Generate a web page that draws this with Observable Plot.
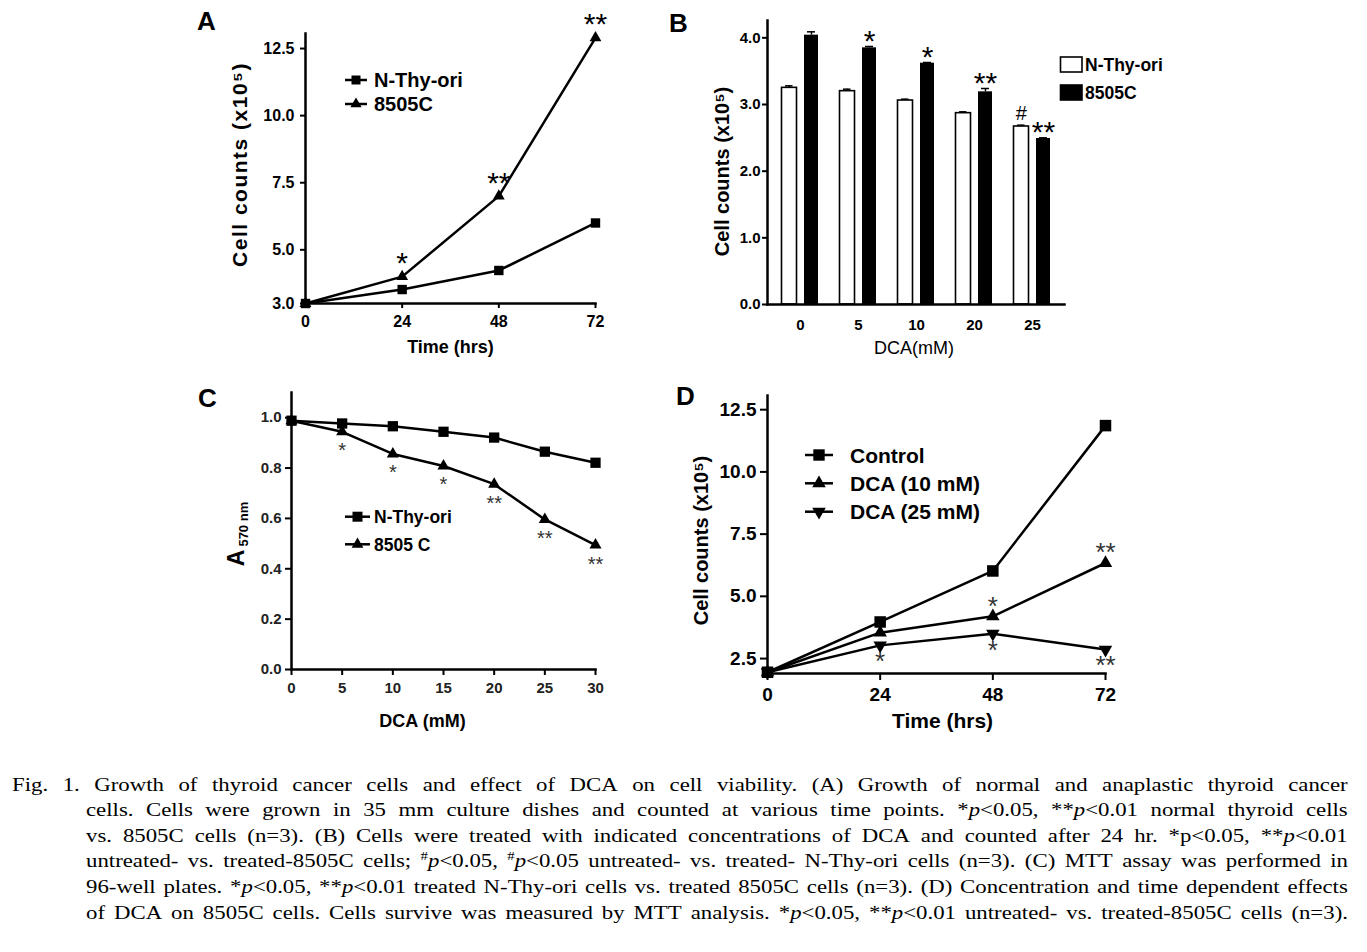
<!DOCTYPE html>
<html><head><meta charset="utf-8">
<script src="https://cdn.jsdelivr.net/npm/d3@7"></script>
<script src="https://cdn.jsdelivr.net/npm/@observablehq/plot@0.6"></script>
<style>
body{margin:0;background:#fff}
#page{position:relative;width:1367px;height:952px;overflow:hidden;background:#fff;font-family:"Liberation Sans",Arial,sans-serif}
.panel{position:absolute}
.panel svg{overflow:visible}
#overlay{position:absolute;left:0;top:0;pointer-events:none}
.capline{position:absolute;display:flex;justify-content:space-between;white-space:nowrap;font-family:"Liberation Serif","Times New Roman",serif;font-size:19px;color:#000;height:25.6px;line-height:25.6px;transform-origin:0 0}
.capline sup{font-size:0.65em;line-height:0;vertical-align:0.55em}
</style></head>
<body><div id="page"></div>
<script>
const FONT = '"Liberation Sans", Arial, Helvetica, sans-serif';

// ---------- Panel A: growth ----------
const timeA = [0, 24, 48, 72];
const nthyA = [3.0, 3.52, 4.23, 6.0];
const c8505A = [3.0, 4.0, 7.0, 12.9];
const sigA = ["", "*", "**", "**"];
const yTicksA = [3, 5, 7.5, 10, 12.5];
const legendA = ["N-Thy-ori", "8505C"];

// ---------- Panel B: DCA 24 h counts ----------
const doseB = ["0", "5", "10", "20", "25"];
const nthyB = [3.25, 3.20, 3.06, 2.87, 2.67];
const nthyErrB = [0.03, 0.03, 0.02, 0.02, 0.02];
const c8505B = [4.04, 3.85, 3.62, 3.19, 2.49];
const c8505ErrB = [0.05, 0.02, 0.01, 0.05, 0.01];
const nthySigB = ["", "", "", "", "#"];
const c8505SigB = ["", "*", "*", "**", "**"];
const yTicksB = [0, 1, 2, 3, 4];
const legendB = ["N-Thy-ori", "8505C"];

// ---------- Panel C: MTT ----------
const doseC = [0, 5, 10, 15, 20, 25, 30];
const nthyC = [0.988, 0.977, 0.966, 0.944, 0.921, 0.865, 0.821];
const c8505C = [0.988, 0.944, 0.856, 0.808, 0.736, 0.596, 0.494];
const sigC = ["", "*", "*", "*", "**", "**", "**"];
const yTicksC = [0, 0.2, 0.4, 0.6, 0.8, 1.0];
const legendC = ["N-Thy-ori", "8505 C"];

// ---------- Panel D: time / concentration ----------
const timeD = [0, 24, 48, 72];
const controlD = [1.95, 3.97, 6.02, 11.86];
const dca10D = [1.95, 3.54, 4.2, 6.34];
const dca25D = [1.95, 3.03, 3.5, 2.86];
const sig10D = ["", "", "*", "**"];
const sig25D = ["", "*", "*", "**"];
const yTicksD = [2.5, 5, 7.5, 10, 12.5];
const legendD = ["Control", "DCA (10 mM)", "DCA (25 mM)"];

// ---------- Caption ----------
const captionLines = [
  "Fig. 1. Growth of thyroid cancer cells and effect of DCA on cell viability. (A) Growth of normal and anaplastic thyroid cancer",
  "cells. Cells were grown in 35 mm culture dishes and counted at various time points. *<i>p</i>&lt;0.05, **<i>p</i>&lt;0.01 normal thyroid cells",
  "vs. 8505C cells (n=3). (B) Cells were treated with indicated concentrations of DCA and counted after 24 hr. *p&lt;0.05, **<i>p</i>&lt;0.01",
  "untreated- vs. treated-8505C cells; <sup>#</sup><i>p</i>&lt;0.05, <sup>#</sup><i>p</i>&lt;0.05 untreated- vs. treated- N-Thy-ori cells (n=3). (C) MTT assay was performed in",
  "96-well plates. *<i>p</i>&lt;0.05, **<i>p</i>&lt;0.01 treated N-Thy-ori cells vs. treated 8505C cells (n=3). (D) Concentration and time dependent effects",
  "of DCA on 8505C cells. Cells survive was measured by MTT analysis. *<i>p</i>&lt;0.05, **<i>p</i>&lt;0.01 untreated- vs. treated-8505C cells (n=3)."
];

const triangleDown = {
  draw(context, size) {
    const s = Math.sqrt(3);
    const y = -Math.sqrt(size / (s * 3));
    context.moveTo(0, -y * 2);
    context.lineTo(-s * y, y);
    context.lineTo(s * y, y);
    context.closePath();
  }
};

function baseStyle(fs) {
  return {fontFamily: FONT, fontSize: fs + "px", fontWeight: "bold", color: "#000", background: "transparent", overflow: "visible"};
}
const fmt1 = d3.format(".1f");
const page = document.getElementById("page");
function place(el, left, top) {
  const d = document.createElement("div");
  d.className = "panel";
  d.style.left = left + "px";
  d.style.top = top + "px";
  d.appendChild(el);
  page.appendChild(d);
  return el;
}
const xLabel = (t, o) => Plot.text([t], {frameAnchor: "bottom", textAnchor: "middle", lineAnchor: "middle", ...o});
const yLabel = (t, o) => Plot.text([t], {frameAnchor: "left", textAnchor: "middle", lineAnchor: "middle", rotate: -90, ...o});

// Panel A
const rowsA = timeA.map((t, i) => ({t, n: nthyA[i], c: c8505A[i], sig: sigA[i]}));
const svgA = place(Plot.plot({
  width: 440, height: 370, marginLeft: 115, marginRight: 35, marginTop: 33, marginBottom: 67,
  style: baseStyle(16),
  x: {domain: [0, 72]},
  y: {domain: [3, 13.06]},
  marks: [
    Plot.axisX({ticks: timeA, tickSize: 5, tickPadding: 7, strokeWidth: 2, fontSize: 16, fontWeight: "bold", label: null}),
    Plot.axisY({ticks: yTicksA, tickFormat: fmt1, tickSize: 5, tickPadding: 6, strokeWidth: 2, fontSize: 16, fontWeight: "bold", label: null}),
    Plot.frame({anchor: "left", strokeWidth: 2.5}),
    Plot.frame({anchor: "bottom", strokeWidth: 2.5}),
    Plot.line(rowsA, {x: "t", y: "n", strokeWidth: 2.5}),
    Plot.line(rowsA, {x: "t", y: "c", strokeWidth: 2.5}),
    Plot.dot(rowsA, {x: "t", y: "n", symbol: "square", r: 5.3, fill: "#000"}),
    Plot.dot(rowsA, {x: "t", y: "c", symbol: "triangle", r: 4.4, fill: "#000"}),
    Plot.text(rowsA.filter(d => d.sig), {x: "t", y: "c", text: "sig", dy: -13, fontSize: 30, fontWeight: "normal"}),
    xLabel("Time (hrs)", {dy: 44, fontSize: 18}),
    yLabel("Cell counts (x10⁵)", {dx: -65, dy: -4, fontSize: 21})
  ]
}), 190, 0);
d3.select(svgA).selectAll("text").filter(function() { return this.textContent.startsWith("Cell"); })
  .attr("letter-spacing", "1.5px");

// Panel B
const rowsB = doseB.map((d, i) => ({dose: d, n: nthyB[i], ne: nthyErrB[i], c: c8505B[i], ce: c8505ErrB[i], ns: nthySigB[i], cs: c8505SigB[i]}));
place(Plot.plot({
  width: 520, height: 370, marginLeft: 107, marginRight: 116, marginTop: 20, marginBottom: 66,
  style: baseStyle(15),
  x: {domain: doseB, paddingInner: 0, paddingOuter: 0.05},
  y: {domain: [0, 4.26]},
  marks: [
    Plot.barY(rowsB, {x: "dose", y: "n", fill: "#fff", stroke: "#000", strokeWidth: 1.6, insetLeft: 10.5, insetRight: 32.5}),
    Plot.barY(rowsB, {x: "dose", y: "c", fill: "#000", insetLeft: 33, insetRight: 11}),
    Plot.ruleX(rowsB, {x: "dose", y1: "n", y2: d => d.n + d.ne, dx: -11.3, strokeWidth: 1.5}),
    Plot.tickY(rowsB, {x: "dose", y: d => d.n + d.ne, insetLeft: 14, insetRight: 36.5, strokeWidth: 1.5}),
    Plot.ruleX(rowsB, {x: "dose", y1: "c", y2: d => d.c + d.ce, dx: 11, strokeWidth: 1.5}),
    Plot.tickY(rowsB, {x: "dose", y: d => d.c + d.ce, insetLeft: 36, insetRight: 14, strokeWidth: 1.5}),
    Plot.text(rowsB.filter(d => d.cs), {x: "dose", y: d => d.c + d.ce, text: "cs", dx: 11, dy: -5.5, fontSize: 30, fontWeight: "normal"}),
    Plot.text(rowsB.filter(d => d.ns), {x: "dose", y: d => d.n + d.ne, text: "ns", dx: -11.3, dy: -12, fontSize: 20, fontWeight: "normal"}),
    Plot.axisX({tickSize: 0, tickPadding: 15, fontSize: 15, fontWeight: "bold", label: null}),
    Plot.axisY({ticks: yTicksB, tickFormat: fmt1, tickSize: 5, tickPadding: 2, strokeWidth: 2, fontSize: 15, fontWeight: "bold", label: null}),
    Plot.frame({anchor: "left", strokeWidth: 2.5}),
    Plot.frame({anchor: "bottom", strokeWidth: 2.5}),
    xLabel("DCA(mM)", {dx: -2, dy: 44, fontSize: 18, fontWeight: "normal"}),
    yLabel("Cell counts (x10⁵)", {dx: -45, dy: 9, fontSize: 20})
  ]
}), 660, 0);

// Panel C
const rowsC = doseC.map((d, i) => ({dose: d, n: nthyC[i], c: c8505C[i], sig: sigC[i]}));
place(Plot.plot({
  width: 460, height: 360, marginLeft: 101, marginRight: 55, marginTop: 12, marginBottom: 71,
  style: baseStyle(15),
  x: {domain: [0, 30]},
  y: {domain: [0, 1.1]},
  marks: [
    Plot.axisX({ticks: doseC, tickSize: 6, tickPadding: 7, strokeWidth: 2, fontSize: 15, fontWeight: "bold", fill: "#222", label: null}),
    Plot.axisY({ticks: yTicksC, tickFormat: fmt1, tickSize: 6, tickPadding: 4, strokeWidth: 2, fontSize: 15, fontWeight: "bold", fill: "#222", label: null}),
    Plot.frame({anchor: "left", strokeWidth: 2.5}),
    Plot.frame({anchor: "bottom", strokeWidth: 2.5}),
    Plot.line(rowsC, {x: "dose", y: "n", strokeWidth: 2.5}),
    Plot.line(rowsC, {x: "dose", y: "c", strokeWidth: 2.5}),
    Plot.dot(rowsC, {x: "dose", y: "n", symbol: "square", r: 5.8, fill: "#000"}),
    Plot.dot(rowsC, {x: "dose", y: "c", symbol: "triangle", r: 4.5, fill: "#000"}),
    Plot.text(rowsC.filter(d => d.sig), {x: "dose", y: "c", text: "sig", dy: 19, fontSize: 20, fontWeight: "normal", fill: "#333"}),
    xLabel("DCA (mM)", {dx: -21, dy: 52, fontSize: 18})
  ]
}), 190, 380);

// Panel D
const rowsD = timeD.map((t, i) => ({t, ctl: controlD[i], d10: dca10D[i], d25: dca25D[i], s10: sig10D[i], s25: sig25D[i]}));
place(Plot.plot({
  width: 480, height: 360, marginLeft: 107, marginRight: 35, marginTop: 15, marginBottom: 67,
  style: baseStyle(19),
  x: {domain: [0, 72]},
  y: {domain: [1.9, 13.07]},
  marks: [
    Plot.axisX({ticks: timeD, tickSize: 7, tickPadding: 7, strokeWidth: 2, fontSize: 19, fontWeight: "bold", label: null}),
    Plot.axisY({ticks: yTicksD, tickFormat: fmt1, tickSize: 7, tickPadding: 4, strokeWidth: 2, fontSize: 19, fontWeight: "bold", label: null}),
    Plot.frame({anchor: "left", strokeWidth: 2.5}),
    Plot.frame({anchor: "bottom", strokeWidth: 2.5}),
    Plot.line(rowsD, {x: "t", y: "ctl", strokeWidth: 2.5}),
    Plot.line(rowsD, {x: "t", y: "d10", strokeWidth: 2.5}),
    Plot.line(rowsD, {x: "t", y: "d25", strokeWidth: 2.5}),
    Plot.dot(rowsD, {x: "t", y: "ctl", symbol: "square", r: 6.5, fill: "#000"}),
    Plot.dot(rowsD, {x: "t", y: "d10", symbol: "triangle", r: 5, fill: "#000"}),
    Plot.dot(rowsD, {x: "t", y: "d25", symbol: triangleDown, r: 5, fill: "#000"}),
    Plot.text(rowsD.filter(d => d.s10), {x: "t", y: "d10", text: "s10", dy: -10, fontSize: 26, fontWeight: "normal", fill: "#333"}),
    Plot.text(rowsD.filter(d => d.s25), {x: "t", y: "d25", text: "s25", dy: 16.5, fontSize: 26, fontWeight: "normal", fill: "#333"}),
    xLabel("Time (hrs)", {dx: 6, dy: 48, fontSize: 21}),
    yLabel("Cell counts (x10⁵)", {dx: -66, dy: 6, fontSize: 20})
  ]
}), 660, 380);

// ---------- Overlay: panel letters, legends, panel C y label ----------
const ov = d3.select(page).append("svg").attr("id", "overlay").attr("width", 1367).attr("height", 760)
  .attr("font-family", FONT).attr("font-weight", "bold");

const letters = [["A", 197, 30], ["B", 669, 31.5], ["C", 198, 406.5], ["D", 676, 405]];
letters.forEach(([t, x, y]) => ov.append("text").attr("x", x).attr("y", y).attr("font-size", 26).text(t));

function lineLegend(items, symbols, x0, x1, ys, tx, fs, symSizes) {
  items.forEach((label, i) => {
    const y = ys[i];
    ov.append("line").attr("x1", x0).attr("x2", x1).attr("y1", y).attr("y2", y).attr("stroke", "#000").attr("stroke-width", 2.5);
    ov.append("path").attr("transform", `translate(${(x0 + x1) / 2},${y})`)
      .attr("d", d3.symbol().type(symbols[i]).size(symSizes[i])()).attr("fill", "#000");
    ov.append("text").attr("x", tx).attr("y", y + fs * 0.36).attr("font-size", fs).text(label);
  });
}
lineLegend(legendA, [d3.symbolSquare, d3.symbolTriangle], 345, 367, [80, 104], 374, 20, [81, 55]);
lineLegend(legendC, [d3.symbolSquare, d3.symbolTriangle], 345, 370, [516.7, 544.3], 374, 17.5, [100, 60]);
lineLegend(legendD, [d3.symbolSquare, d3.symbolTriangle, triangleDown], 805, 833, [455, 483.3, 511.7], 850, 21, [130, 80, 80]);

// Panel B legend (boxes)
legendB.forEach((label, i) => {
  const y = [64.5, 92.5][i];
  ov.append("rect").attr("x", 1060.5).attr("y", y - 7.5).attr("width", 21.5).attr("height", 15)
    .attr("fill", i === 0 ? "#fff" : "#000").attr("stroke", "#000").attr("stroke-width", 1.6);
  ov.append("text").attr("x", 1085).attr("y", y + 6.3).attr("font-size", 17.5).text(label);
});

// Panel C y label: A subscript 570 nm
const cl = ov.append("text").attr("transform", "translate(244,534) rotate(-90)").attr("text-anchor", "middle");
cl.append("tspan").attr("font-size", 23).text("A");
cl.append("tspan").attr("font-size", 13).attr("dy", 4).attr("dx", 3).text("570 nm");

// ---------- Caption ----------
const capScale = 1.2;
captionLines.forEach((line, i) => {
  const left = i === 0 ? 12 : 86;
  const right = 1348;
  const div = document.createElement("div");
  div.className = "capline";
  div.style.left = left + "px";
  div.style.top = (771.5 + i * 25.6) + "px";
  div.style.width = ((right - left) / capScale) + "px";
  div.style.transform = `scaleX(${capScale})`;
  div.innerHTML = line.split(" ").map(w => `<span>${w}</span>`).join("");
  page.appendChild(div);
});
</script></body></html>
